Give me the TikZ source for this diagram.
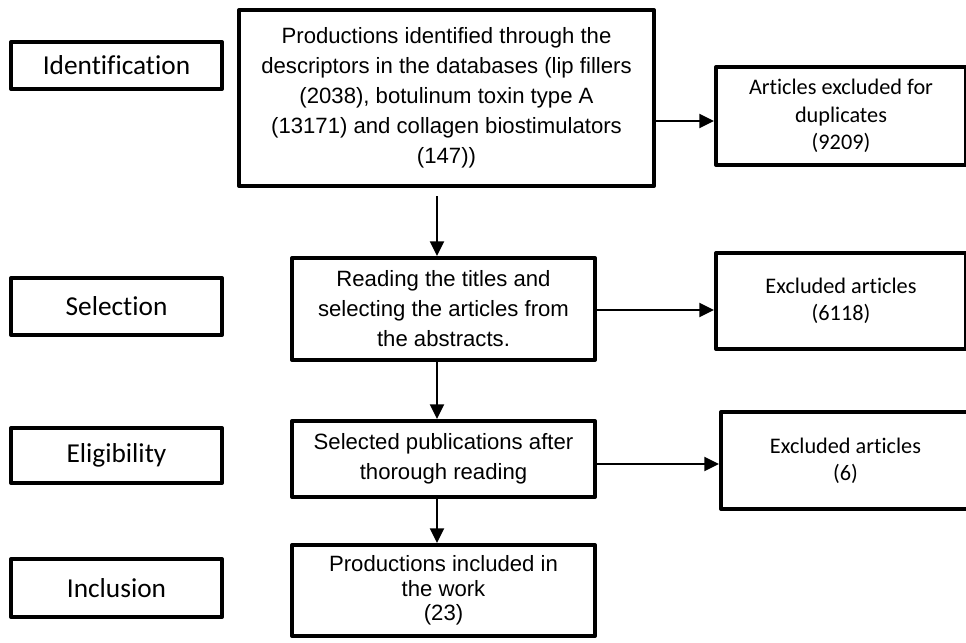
\documentclass[tikz,border=0pt]{standalone}
\usepackage{fontspec}
\setmainfont{Liberation Sans}
\newfontfamily\calfont[Ligatures=NoCommon]{Carlito}
\usetikzlibrary{arrows.meta,calc}
\begin{document}
\begin{tikzpicture}[x=0.75pt,y=-0.75pt,
  box/.style={draw,line width=3pt,inner sep=0pt,align=center,line join=round},
  mainbox/.style={box,font=\fontsize{16.6}{22.5}\selectfont},
  stagebox/.style={box,font=\calfont\fontsize{20.5}{24}\selectfont},
  sidebox/.style={box,font=\calfont\fontsize{16.7}{20.4}\selectfont},
  arr/.style={line width=1.5pt,-{Triangle[length=11pt,width=10.5pt]}}]
\useasboundingbox (0,0) rectangle (966,642);
\fill[white] (0,0) rectangle (966,642);
\clip (0,0) rectangle (966,642);

% stage boxes
\node[stagebox,minimum width={211*0.75pt},minimum height={47*0.75pt}] (s1) at (116.5,65.5) {Identification};
\node[stagebox,minimum width={211*0.75pt},minimum height={57*0.75pt}] (s2) at (116.5,306.5) {Selection};
\node[stagebox,minimum width={211*0.75pt},minimum height={55*0.75pt}] (s3) at (116.5,455.5) {Eligibility};
\node[stagebox,minimum width={211*0.75pt},minimum height={58*0.75pt}] (s4) at (116.5,588) {Inclusion};

% main boxes
\node[mainbox,minimum width={415*0.75pt},minimum height={176*0.75pt}] (b1) at (446.5,98)
  {Productions identified through the\\descriptors in the databases (lip fillers\\(2038), botulinum toxin type A\\(13171) and collagen biostimulators\\(147))};
\node[mainbox,minimum width={303*0.75pt},minimum height={102*0.75pt}] (b2) at (443.5,309)
  {Reading the titles and\\selecting the articles from\\the abstracts.};
\node[mainbox,minimum width={303*0.75pt},minimum height={76*0.75pt}] (b3) at (443.5,459)
  {Selected publications after\\thorough reading};
\node[mainbox,font=\fontsize{16.6}{18.5}\selectfont,minimum width={303*0.75pt},minimum height={91*0.75pt}] (b4) at (443.5,590.5)
  {Productions included in\\the work\\(23)};

% side boxes
\node[sidebox,minimum width={250*0.75pt},minimum height={98*0.75pt}] (r1) at (841,116)
  {\raisebox{-3pt}{\parbox{60mm}{\centering Articles excluded for\\duplicates\\(9209)}}};
\node[sidebox,minimum width={250*0.75pt},minimum height={96*0.75pt}] (r2) at (841,301)
  {Excluded articles\\(6118)};
\node[sidebox,minimum width={249*0.75pt},minimum height={97*0.75pt}] (r3) at (845.5,460.5)
  {Excluded articles\\(6)};

% connectors
\coordinate (col) at (437,0);
\coordinate (h1) at (0,121);
\coordinate (h2) at (0,310);
\coordinate (h3) at (0,464);
\draw[arr] ($(b1.south -| col)+(0,8)$) -- (b2.north -| col);
\draw[arr] (b2.south -| col) -- (b3.north -| col);
\draw[arr] (b3.south -| col) -- (b4.north -| col);
\draw[arr] (b1.east |- h1) -- (r1.west |- h1);
\draw[arr] (b2.east |- h2) -- (r2.west |- h2);
\draw[arr] (b3.east |- h3) -- (r3.west |- h3);
\end{tikzpicture}
\end{document}
